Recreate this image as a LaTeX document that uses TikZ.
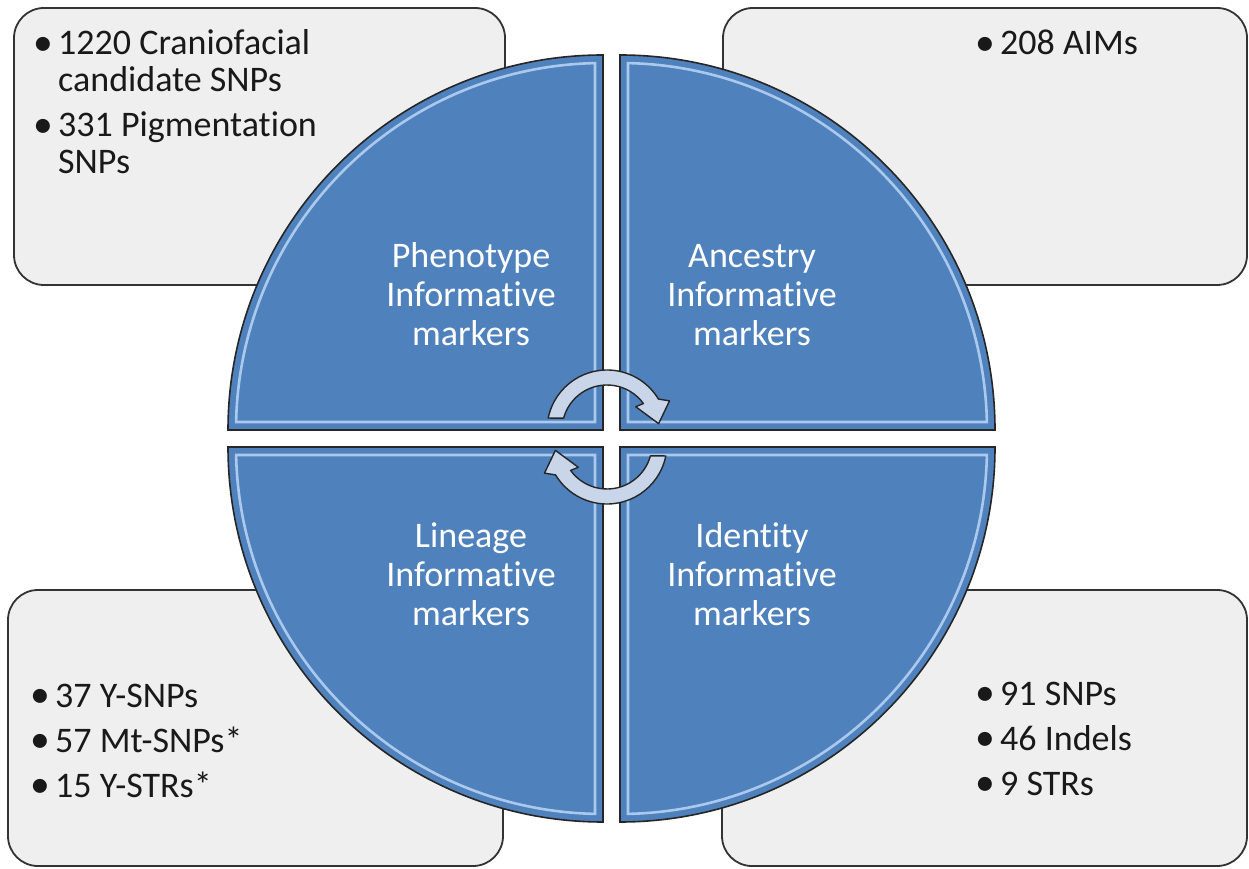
\documentclass[tikz,border=0pt]{standalone}
\usepackage{fontspec}
\setmainfont{Carlito}[Ligatures=NoCommon]
\usetikzlibrary{calc}
\definecolor{quadblue}{HTML}{4F81BD}
\definecolor{boxgray}{HTML}{EFEFEF}
\definecolor{rimlight}{HTML}{C2DCF8}
\definecolor{cyclefill}{HTML}{C9D6E9}
\newcommand{\bul}{\makebox[26pt][l]{\hspace{1pt}\raisebox{-0.3pt}{\scalebox{1.1}{•}}}}
\begin{document}
\begin{tikzpicture}[x=1pt,y=1pt,
  infobox/.style={draw=black!80, line width=1.8pt, fill=boxgray, rounded corners=30pt, inner sep=0pt},
  quadrant/.style={draw=black!85, line width=1.6pt, fill=quadblue},
  rim/.style={draw=rimlight, line width=2.6pt, opacity=0.8},
  cyclearrow/.style={draw=black!85, line width=1.4pt, fill=cyclefill, line join=round},
  quadtext/.style={text=white, font=\fontsize{36}{39}\selectfont, anchor=base, inner sep=0pt},
  listtext/.style={text=black!90, font=\fontsize{36}{37}\selectfont, anchor=base west, inner sep=0pt}]

\useasboundingbox[fill=white] (0,0) rectangle (1249,868);

% the four rounded information boxes
\node[infobox, minimum width=491pt, minimum height=277pt] (phenobox) at (259.5,721.5) {};
\node[infobox, minimum width=524pt, minimum height=277pt] (ancestrybox) at (985,721.5) {};
\node[infobox, minimum width=495pt, minimum height=276pt] (lineagebox) at (255.5,140) {};
\node[infobox, minimum width=525pt, minimum height=276pt] (identitybox) at (984.5,140) {};

% corners of the four quarter discs
\coordinate (qTL) at (603,438);
\coordinate (qTR) at (620,438);
\coordinate (qBL) at (603,421);
\coordinate (qBR) at (620,421);

% quarter discs
\draw[quadrant] (qTL) -- ++(-375,0) arc[start angle=180, end angle=90, radius=375] -- cycle;
\draw[quadrant] (qTR) -- ++(0,375) arc[start angle=90, end angle=0, radius=375] -- cycle;
\draw[quadrant] (qBL) -- ++(0,-375) arc[start angle=270, end angle=180, radius=375] -- cycle;
\draw[quadrant] (qBR) -- ++(375,0) arc[start angle=0, end angle=-90, radius=375] -- cycle;

% bevel highlights inside each quarter
\draw[rim] ($(qTL)+(-8,8)$) -- ($(qTL)+(178.75:367)$) arc[start angle=178.75, end angle=91.25, radius=367] -- cycle;
\draw[rim] ($(qTR)+(8,8)$) -- ($(qTR)+(88.75:367)$) arc[start angle=88.75, end angle=1.25, radius=367] -- cycle;
\draw[rim] ($(qBL)+(-8,-8)$) -- ($(qBL)+(268.75:367)$) arc[start angle=268.75, end angle=181.25, radius=367] -- cycle;
\draw[rim] ($(qBR)+(8,-8)$) -- ($(qBR)+(-1.25:367)$) arc[start angle=-1.25, end angle=-88.75, radius=367] -- cycle;

% quadrant titles
\node[quadtext] (phenotype) at (471,600) {\begin{tabular}[t]{@{}c@{}}Phenotype\\Informative\\markers\end{tabular}};
\node[quadtext] (ancestry) at (752,600) {\begin{tabular}[t]{@{}c@{}}Ancestry\\Informative\\markers\end{tabular}};
\node[quadtext] (lineage) at (471,321) {\begin{tabular}[t]{@{}c@{}}Lineage\\Informative\\markers\end{tabular}};
\node[quadtext] (identity) at (752,321) {\begin{tabular}[t]{@{}c@{}}Identity\\Informative\\markers\end{tabular}};

% circular arrows in the middle
\coordinate (cycT) at (607,438);
\coordinate (cycB) at (607,424);
\draw[cyclearrow] ($(cycT)+(168.5:60)$) arc[start angle=168.5, end angle=31, radius=60]
  -- ($(cycT)+(25:69)$) -- ($(cycT)+(7:52)$) -- ($(cycT)+(39:37)$)
  -- ($(cycT)+(36:45)$) arc[start angle=36, end angle=164.7, radius=45] -- cycle;
\draw[cyclearrow] ($(cycB)+(348.5:60)$) arc[start angle=348.5, end angle=211, radius=60]
  -- ($(cycB)+(205:69)$) -- ($(cycB)+(187:52)$) -- ($(cycB)+(219:37)$)
  -- ($(cycB)+(216:45)$) arc[start angle=216, end angle=344.7, radius=45] -- cycle;

% bullet lists
\node[listtext] (phenolist) at (32,813) {\begin{tabular}[t]{@{}l@{}l@{}}\bul & 1220 Craniofacial\\ & candidate SNPs\\[8pt] \bul & 331 Pigmentation\\ & SNPs\end{tabular}};
\node[listtext] (ancestrylist) at (974,813) {\begin{tabular}[t]{@{}l@{}l@{}}\bul & 208 AIMs\end{tabular}};
\node[listtext] (lineagelist) at (29,161) {\begin{tabular}[t]{@{}l@{}l@{}}\bul & 37 Y-SNPs\\[8pt] \bul & 57 Mt-SNPs*\\[8pt] \bul & 15 Y-STRs*\end{tabular}};
\node[listtext] (identitylist) at (974,163) {\begin{tabular}[t]{@{}l@{}l@{}}\bul & 91 SNPs\\[8pt] \bul & 46 Indels\\[8pt] \bul & 9 STRs\end{tabular}};
\end{tikzpicture}
\end{document}
